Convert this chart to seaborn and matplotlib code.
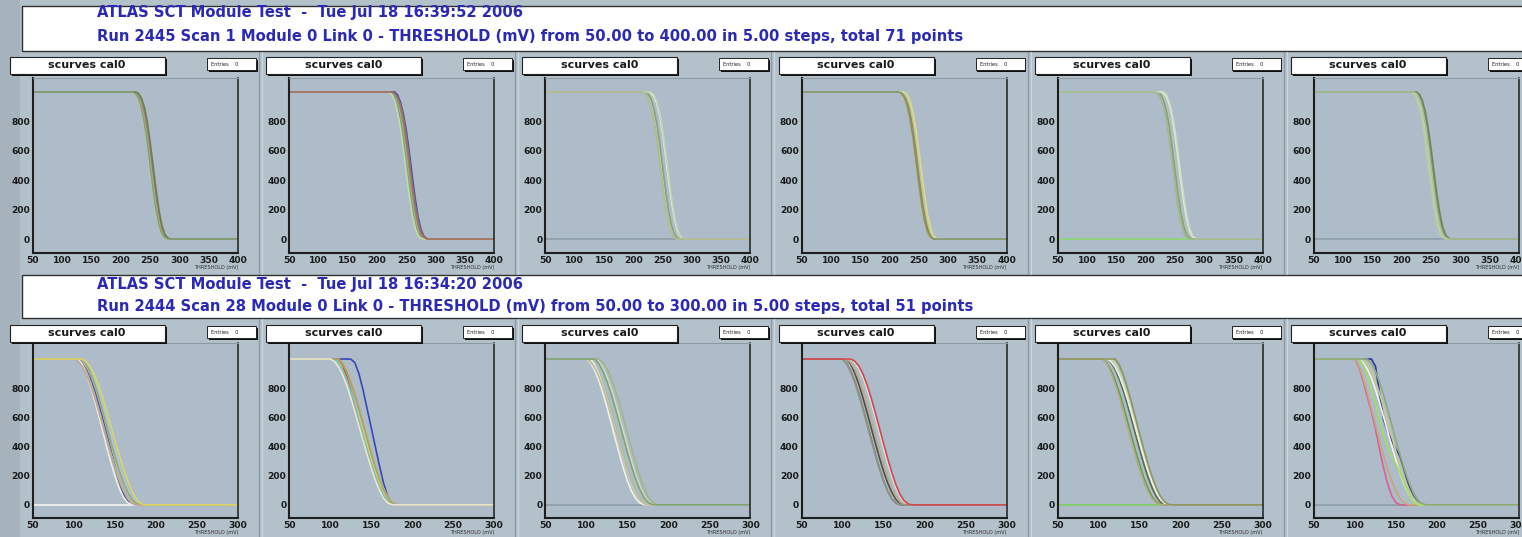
import matplotlib
matplotlib.use("Agg")
import matplotlib.pyplot as plt
from matplotlib.patches import Rectangle
from matplotlib.lines import Line2D
from matplotlib.ticker import MultipleLocator
import pandas as pd
import seaborn as sns

# ---------------------------------------------------------------- data
header_top = ["ATLAS SCT Module Test  -  Tue Jul 18 16:39:52 2006",
              "Run 2445 Scan 1 Module 0 Link 0 - THRESHOLD (mV) from 50.00 to 400.00 in 5.00 steps, total 71 points"]
header_bottom = ["ATLAS SCT Module Test  -  Tue Jul 18 16:34:20 2006",
                 "Run 2444 Scan 28 Module 0 Link 0 - THRESHOLD (mV) from 50.00 to 300.00 in 5.00 steps, total 51 points"]
panel_title = "scurves cal0"
entries_label = "Entries    0"
x_title = "THRESHOLD (mV)"

top_scan = list(range(50, 401, 5))       # 71 points
bottom_scan = list(range(50, 301, 5))    # 51 points
top_xticks = [50, 100, 150, 200, 250, 300, 350, 400]
bottom_xticks = [50, 100, 150, 200, 250, 300]
y_ticks = [0, 200, 400, 600, 800, 1000]
y_ticklabels = ["0", "200", "400", "600", "800", ""]
PLATEAU = 1000

# each curve: threshold where it leaves the plateau, then its values every 5 mV
# start = 50 with [0] is a dead channel sitting at zero
t1_start = [220, 225, 220, 225, 220]
t1_drop = [
    [1000, 992, 965, 905, 810, 675, 515, 355, 215, 110, 42, 12, 0],
    [1000, 985, 945, 870, 760, 615, 455, 300, 170, 78, 25, 5, 0],
    [1000, 985, 950, 880, 775, 635, 475, 320, 185, 88, 30, 6, 0],
    [1000, 990, 960, 900, 800, 660, 500, 340, 200, 95, 32, 8, 0],
    [1000, 988, 955, 890, 790, 655, 495, 335, 198, 96, 35, 9, 0]]
t2_start = [220, 225, 230, 220, 225]
t2_drop = [
    [1000, 990, 962, 905, 812, 680, 520, 360, 220, 112, 44, 12, 0],
    [1000, 988, 952, 885, 780, 640, 480, 322, 188, 90, 30, 7, 0],
    [1000, 980, 930, 850, 735, 590, 430, 280, 150, 65, 18, 3, 0],
    [1000, 984, 940, 862, 750, 606, 448, 296, 166, 76, 24, 5, 0],
    [1000, 992, 968, 915, 828, 700, 545, 385, 240, 125, 50, 14, 0]]
t3_start = [50, 215, 220, 225, 220, 230, 215]
t3_drop = [
    [0],
    [1000, 990, 958, 898, 800, 668, 510, 352, 214, 108, 40, 10, 0],
    [1000, 986, 948, 878, 772, 632, 472, 316, 182, 86, 28, 6, 0],
    [1000, 994, 972, 925, 845, 725, 575, 415, 268, 148, 64, 20, 0],
    [1000, 988, 954, 890, 788, 652, 494, 336, 198, 96, 34, 8, 0],
    [1000, 982, 938, 860, 748, 604, 446, 294, 164, 74, 22, 4, 0],
    [1000, 992, 964, 908, 818, 690, 534, 374, 230, 118, 46, 12, 0]]
t4_start = [215, 220, 220, 225, 215]
t4_drop = [
    [1000, 988, 955, 893, 796, 662, 503, 345, 206, 101, 36, 9, 0],
    [1000, 986, 946, 874, 765, 622, 462, 307, 175, 80, 26, 5, 0],
    [1000, 991, 962, 904, 812, 682, 525, 366, 224, 114, 44, 12, 0],
    [1000, 983, 940, 864, 752, 608, 450, 298, 168, 76, 23, 4, 0],
    [1000, 993, 968, 915, 828, 703, 550, 390, 244, 128, 52, 15, 0]]
t5_start = [50, 220, 225, 220, 230, 215]
t5_drop = [
    [0],
    [1000, 990, 960, 900, 804, 670, 512, 352, 212, 106, 40, 10, 0],
    [1000, 993, 970, 920, 836, 712, 558, 398, 252, 134, 56, 16, 0],
    [1000, 986, 948, 880, 774, 634, 474, 318, 184, 88, 30, 7, 0],
    [1000, 982, 936, 856, 742, 598, 440, 290, 160, 72, 22, 4, 0],
    [1000, 991, 963, 906, 815, 686, 530, 370, 228, 116, 45, 12, 0]]
t6_start = [50, 215, 220, 220, 225, 220]
t6_drop = [
    [0],
    [1000, 989, 958, 897, 800, 666, 508, 349, 210, 104, 38, 10, 0],
    [1000, 991, 964, 908, 818, 690, 534, 374, 230, 118, 46, 12, 0],
    [1000, 985, 945, 872, 763, 620, 460, 305, 174, 80, 26, 5, 0],
    [1000, 984, 942, 866, 754, 610, 452, 300, 170, 78, 25, 5, 0],
    [1000, 988, 952, 886, 782, 644, 486, 328, 192, 92, 32, 7, 0]]

b1_start = [50, 105, 105, 110, 105, 110, 100, 110]
b1_drop = [
    [0],
    [1000, 972, 925, 862, 782, 688, 585, 478, 370, 262, 160, 82, 30, 6, 0],
    [1000, 970, 915, 845, 760, 660, 560, 455, 355, 260, 175, 105, 52, 18, 4, 0],
    [1000, 975, 930, 865, 785, 690, 590, 485, 380, 280, 190, 118, 62, 25, 6, 0],
    [1000, 960, 895, 815, 720, 615, 505, 395, 290, 195, 115, 55, 18, 3, 0],
    [1000, 965, 905, 830, 740, 640, 535, 430, 330, 238, 158, 92, 44, 14, 2, 0],
    [1000, 985, 950, 895, 825, 740, 645, 545, 445, 345, 252, 168, 98, 45, 14, 2, 0],
    [1000, 980, 945, 890, 820, 735, 640, 540, 440, 345, 255, 175, 105, 50, 15, 0]]
b2_start = [125, 110, 110, 110, 105, 110, 100]
b2_drop = [
    [1000, 975, 900, 790, 660, 530, 400, 270, 150, 60, 12, 0],
    [1000, 972, 922, 855, 772, 676, 574, 470, 368, 272, 186, 114, 58, 22, 5, 0],
    [1000, 950, 870, 780, 690, 600, 505, 410, 318, 232, 156, 92, 44, 14, 2, 0],
    [1000, 960, 885, 785, 675, 565, 460, 360, 268, 186, 116, 60, 22, 4, 0],
    [1000, 975, 928, 862, 780, 686, 586, 484, 384, 288, 200, 124, 64, 24, 5, 0],
    [1000, 968, 912, 840, 754, 658, 556, 452, 350, 256, 172, 102, 50, 16, 3, 0],
    [1000, 985, 948, 892, 820, 736, 642, 544, 444, 346, 254, 170, 100, 46, 14, 2, 0]]
b3_start = [50, 100, 105, 110, 105, 115, 100, 110]
b3_drop = [
    [0],
    [1000, 975, 925, 855, 770, 670, 565, 458, 352, 252, 164, 94, 44, 14, 2, 0],
    [1000, 968, 910, 836, 748, 650, 548, 444, 342, 248, 164, 96, 46, 15, 3, 0],
    [1000, 980, 938, 876, 798, 706, 606, 502, 398, 298, 206, 128, 66, 26, 6, 0],
    [1000, 962, 898, 818, 726, 626, 522, 418, 318, 226, 146, 82, 36, 10, 0],
    [1000, 978, 934, 870, 790, 698, 598, 494, 390, 290, 198, 120, 60, 22, 4, 0],
    [1000, 982, 942, 884, 810, 722, 624, 522, 420, 322, 232, 152, 86, 38, 10, 0],
    [1000, 970, 918, 848, 764, 668, 566, 462, 360, 264, 178, 106, 52, 18, 3, 0]]
b4_start = [100, 105, 105, 110, 100, 110]
b4_drop = [
    [1000, 970, 916, 844, 758, 660, 556, 450, 346, 250, 164, 94, 42, 12, 0],
    [1000, 964, 902, 822, 730, 630, 526, 422, 322, 230, 150, 86, 38, 10, 0],
    [1000, 975, 928, 862, 780, 686, 584, 480, 376, 278, 190, 116, 58, 20, 3, 0],
    [1000, 978, 934, 872, 794, 702, 600, 494, 388, 288, 196, 118, 58, 20, 3, 0],
    [1000, 968, 912, 838, 750, 652, 548, 442, 340, 246, 162, 94, 44, 14, 2, 0],
    [1000, 985, 950, 895, 820, 730, 630, 525, 420, 318, 222, 138, 72, 28, 6, 0]]
b5_start = [50, 105, 110, 115, 110, 105, 120]
b5_drop = [
    [0],
    [1000, 972, 922, 854, 770, 674, 572, 468, 366, 270, 184, 112, 56, 20, 4, 0],
    [1000, 975, 928, 862, 780, 686, 584, 480, 376, 278, 190, 116, 58, 20, 3, 0],
    [1000, 968, 912, 838, 750, 652, 548, 442, 340, 246, 162, 94, 44, 14, 2, 0],
    [1000, 982, 944, 886, 812, 724, 626, 524, 422, 324, 234, 154, 88, 40, 11, 0],
    [1000, 966, 906, 830, 740, 640, 536, 432, 332, 240, 158, 92, 42, 13, 2, 0],
    [1000, 960, 890, 800, 700, 592, 484, 378, 280, 192, 118, 60, 22, 4, 0]]
b6_start = [50, 120, 100, 100, 105, 110, 105, 115]
b6_drop = [
    [0],
    [1000, 950, 760, 580, 500, 440, 380, 330, 240, 140, 70, 25, 5, 0],
    [1000, 940, 850, 740, 640, 520, 380, 250, 140, 60, 15, 0],
    [1000, 950, 870, 770, 660, 550, 440, 335, 240, 160, 92, 44, 14, 2, 0],
    [1000, 975, 930, 870, 790, 700, 600, 500, 400, 305, 215, 140, 78, 34, 8, 0],
    [1000, 968, 915, 845, 762, 668, 568, 466, 366, 272, 188, 116, 58, 20, 3, 0],
    [1000, 960, 890, 800, 700, 590, 480, 400, 330, 280, 220, 150, 80, 30, 5, 0],
    [1000, 970, 915, 840, 750, 650, 545, 440, 340, 248, 166, 98, 46, 14, 2, 0]]

# ---------------------------------------------------------------- styles
top_colors = [
    ['#98b48c', '#b0786a', '#c8dca8', '#6e7f52', '#86a07c'],
    ['#86a278', '#8c9258', '#3a4ab8', '#c4d8ac', '#a46c5c'],
    ['#8e9ea6', '#a8c49a', '#d4e0c4', '#f2f4f0', '#86a07a', '#c0d4b0', '#b4ba94'],
    ['#c8b47c', '#a8705e', '#b8cc92', '#dcd890', '#7c9470'],
    ['#8cd870', '#b8d0a8', '#e8eee0', '#88a078', '#d0dcc0', '#a0b890'],
    ['#8e9ea6', '#b8d0a0', '#7c9868', '#d4e0c0', '#6f8458', '#a8bc98']]
bottom_colors = [
    ['#f4f4f2', '#3848b0', '#c8b090', '#a8ccc8', '#ecece4', '#9aa878', '#bca894', '#dcd468'],
    ['#3848b8', '#c8b87a', '#e4e060', '#c84a48', '#78c4b4', '#a8a070', '#ece6d0'],
    ['#8e9ea6', '#f0f0ea', '#9cc08c', '#d6dcc0', '#e8ece6', '#a4b48c', '#c4b898', '#7ea478'],
    ['#8a6a50', '#4a5048', '#c0a888', '#e6e4dc', '#8c9488', '#d04850'],
    ['#7cd060', '#5aa048', '#5c6a50', '#c8d8b0', '#eeeee6', '#b8a884', '#8c9660'],
    ['#8e9ea6', '#2838a0', '#d8609a', '#c8a878', '#f2f2ee', '#c8c890', '#a0e060', '#90a880']]

top_panels = [(t1_start, t1_drop), (t2_start, t2_drop), (t3_start, t3_drop),
              (t4_start, t4_drop), (t5_start, t5_drop), (t6_start, t6_drop)]
bottom_panels = [(b1_start, b1_drop), (b2_start, b2_drop), (b3_start, b3_drop),
                 (b4_start, b4_drop), (b5_start, b5_drop), (b6_start, b6_drop)]


def curves_table(scan, starts, drops):
    rows = []
    for k, (s, d) in enumerate(zip(starts, drops)):
        for x in scan:
            if x < s:
                y = PLATEAU
            else:
                j = (x - s) // 5
                y = d[j] if j < len(d) else 0
            rows.append((f"ch{k}", x, y))
    return pd.DataFrame(rows, columns=["channel", "threshold", "occupancy"])


# ---------------------------------------------------------------- figure
W, H = 1522, 537
sns.set_style("white")
plt.rcParams["font.family"] = ["DejaVu Sans"]

BG = "#b3c1cb"
FRAME_BG = "#adbcc8"
TEXT_BLUE = "#2a2ab4"

fig = plt.figure(figsize=(W / 100, H / 100), dpi=100, facecolor=BG)


def fx(px):
    return px / W


def fy(py):
    return 1 - py / H


def rect_px(x, y, w, h, **kw):
    r = Rectangle((fx(x), fy(y + h)), w / W, h / H, transform=fig.transFigure, **kw)
    fig.add_artist(r)
    return r


def line_px(xs, ys, **kw):
    fig.add_artist(Line2D([fx(v) for v in xs], [fy(v) for v in ys],
                          transform=fig.transFigure, **kw))


# left dark strip
rect_px(0, 0, 20, H, facecolor="#a6b3bc", edgecolor="none", zorder=0)

# headers
for (ytop, h, lines, ys) in [(6, 45, header_top, (13, 36)),
                             (275, 43, header_bottom, (284, 307))]:
    rect_px(22, ytop, W, h, facecolor="white", edgecolor="#303030", linewidth=1.0, zorder=1)
    for txt, yy in zip(lines, ys):
        fig.text(fx(97), fy(yy), txt, ha="left", va="center", color=TEXT_BLUE,
                 fontsize=10.6, fontweight="bold", zorder=3)

DX = 256.2
rows_cfg = [
    dict(panels=top_panels, colors=top_colors, scan=top_scan, xticks=top_xticks,
         frame_top=78, frame_h=175, ylim=(-95, 1095), box_y=57, pad_top=52, pad_bot=274),
    dict(panels=bottom_panels, colors=bottom_colors, scan=bottom_scan, xticks=bottom_xticks,
         frame_top=343, frame_h=175, ylim=(-90, 1110), box_y=325, pad_top=319, pad_bot=537),
]

for cfg in rows_cfg:
    # pad separators
    for i in range(6):
        xs = 259 + i * DX
        line_px([xs, xs], [cfg["pad_top"], cfg["pad_bot"]], color="#8a98a3", linewidth=0.9, zorder=1)
        line_px([xs + 3, xs + 3], [cfg["pad_top"], cfg["pad_bot"]], color="#ccd6dd", linewidth=0.9, zorder=1)
    for i, ((starts, drops), cols) in enumerate(zip(cfg["panels"], cfg["colors"])):
        left = 33 + i * DX
        top = cfg["frame_top"]
        h = cfg["frame_h"]
        ax = fig.add_axes([fx(left), fy(top + h), 205 / W, h / H])
        ax.set_facecolor(FRAME_BG)
        df = curves_table(cfg["scan"], starts, drops)
        pal = {f"ch{k}": c for k, c in enumerate(cols)}
        sns.lineplot(data=df, x="threshold", y="occupancy", hue="channel",
                     palette=pal, estimator=None, sort=False, legend=False,
                     linewidth=1.2, ax=ax)
        ax.set_xlim(cfg["scan"][0], cfg["scan"][-1])
        ax.set_ylim(*cfg["ylim"])
        ax.set_xticks(cfg["xticks"])
        ax.set_xticklabels([str(v) for v in cfg["xticks"]])
        ax.set_yticks(y_ticks)
        ax.set_yticklabels(y_ticklabels)
        ax.xaxis.set_minor_locator(MultipleLocator(10))
        ax.yaxis.set_minor_locator(MultipleLocator(40))
        ax.tick_params(which="both", direction="in", color="#1a1a1a", width=0.8,
                       top=False, right=False)
        ax.tick_params(which="major", length=6, labelsize=6.6, pad=2,
                       labelcolor="#1a1a1a")
        ax.tick_params(which="minor", length=3)
        for lab in ax.get_xticklabels() + ax.get_yticklabels():
            lab.set_fontweight("bold")
        ax.set_xlabel("")
        ax.set_ylabel("")
        for side, lw, col in [("left", 1.5, "#1e1e1e"), ("bottom", 1.5, "#1e1e1e"),
                              ("right", 1.2, "#2a2a2a"), ("top", 0.8, "#8c9aa6")]:
            ax.spines[side].set_visible(True)
            ax.spines[side].set_linewidth(lw)
            ax.spines[side].set_color(col)
        ax.text(1.0, -0.085, x_title, transform=ax.transAxes, ha="right", va="center",
                fontsize=3.6, color="#303030")

        # title box with shadow
        bx = 10 + i * DX
        rect_px(bx + 2, cfg["box_y"] + 2, 155, 17, facecolor="#111111", edgecolor="none", zorder=2)
        rect_px(bx, cfg["box_y"], 155, 17, facecolor="white", edgecolor="#222222",
                linewidth=0.8, zorder=3)
        fig.text(fx(bx + 77), fy(cfg["box_y"] + 8.5), panel_title, ha="center", va="center",
                 fontsize=8, fontweight="bold", color="#1a1a1a", zorder=4)
        # entries box
        ex = 207 + i * DX
        rect_px(ex + 1.5, cfg["box_y"] + 2.5, 49, 12, facecolor="#111111", edgecolor="none", zorder=2)
        rect_px(ex, cfg["box_y"] + 1, 49, 12, facecolor="white", edgecolor="#222222",
                linewidth=0.7, zorder=3)
        fig.text(fx(ex + 4), fy(cfg["box_y"] + 7), entries_label, ha="left", va="center",
                 fontsize=3.6, color="#1a1a1a", zorder=4)

fig.savefig("out.png", dpi=100, facecolor=BG)
